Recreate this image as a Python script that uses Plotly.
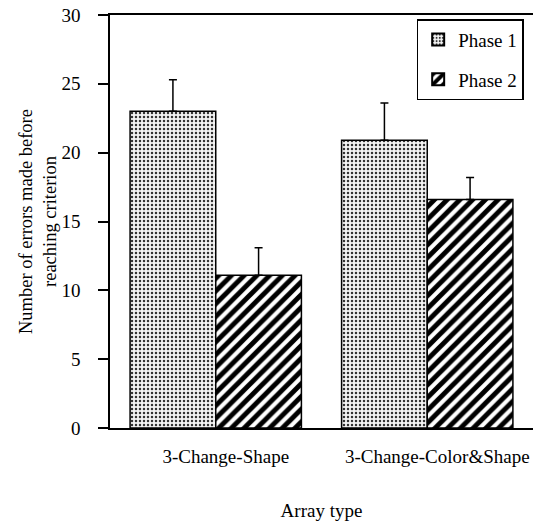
import plotly.graph_objects as go

categories = ["3-Change-Shape", "3-Change-Color&Shape"]
phase1 = [23.0, 20.9]
phase2 = [11.1, 16.6]
phase1_err = [2.3, 2.7]
phase2_err = [2.0, 1.6]

FONT = "Liberation Serif, Times New Roman, serif"
FS = 19

fig = go.Figure()
fig.add_trace(go.Bar(
    name="Phase 1", x=categories, y=phase1, legendgroup="p1",
    marker=dict(color="#f0f0f0", line=dict(color="black", width=1.5),
                pattern=dict(shape=".", fgcolor="#333333", fgopacity=1, bgcolor="#f4f4f4",
                             size=4, solidity=0.3, fillmode="replace")),
    error_y=dict(type="data", array=phase1_err, arrayminus=[0, 0], symmetric=False,
                 color="black", thickness=1.5, width=4),
))
fig.add_trace(go.Bar(
    name="Phase 2", x=categories, y=phase2, legendgroup="p2",
    marker=dict(color="white", line=dict(color="black", width=1.5),
                pattern=dict(shape="/", fgcolor="black", fgopacity=1, bgcolor="white",
                             size=9, solidity=0.55, fillmode="replace")),
    error_y=dict(type="data", array=phase2_err, arrayminus=[0, 0], symmetric=False,
                 color="black", thickness=1.5, width=4),
))

fig.update_layout(
    width=533, height=521,
    margin=dict(l=110, r=0, t=15, b=93),
    paper_bgcolor="white", plot_bgcolor="white",
    font=dict(family=FONT, size=FS, color="black"),
    barmode="group", bargap=0.19, bargroupgap=0,
    showlegend=True,
    legend=dict(x=0.725, y=0.99, xanchor="left", yanchor="top",
                bordercolor="black", borderwidth=1.5, bgcolor="white",
                font=dict(family=FONT, size=FS), itemsizing="constant",
                traceorder="grouped", tracegroupgap=12, itemwidth=30),
)
fig.update_xaxes(
    range=[-0.5, 1.5], showline=True, linecolor="black", linewidth=1.5, mirror=True,
    ticks="", showgrid=False, ticklabelshift=10, ticklabelstandoff=10,
    title=dict(text="Array type", font=dict(family=FONT, size=FS), standoff=42),
)
fig.update_yaxes(
    range=[0, 30], dtick=5, showline=True, linecolor="black", linewidth=1.5,
    ticks="outside", ticklen=10, tickwidth=1.5, tickcolor="black", showgrid=False,
    zeroline=False, ticklabelstandoff=14,
    title=dict(text="Number of errors made before<br>reaching criterion",
               font=dict(family=FONT, size=18.5), standoff=0),
)

fig.write_html("out.html")
